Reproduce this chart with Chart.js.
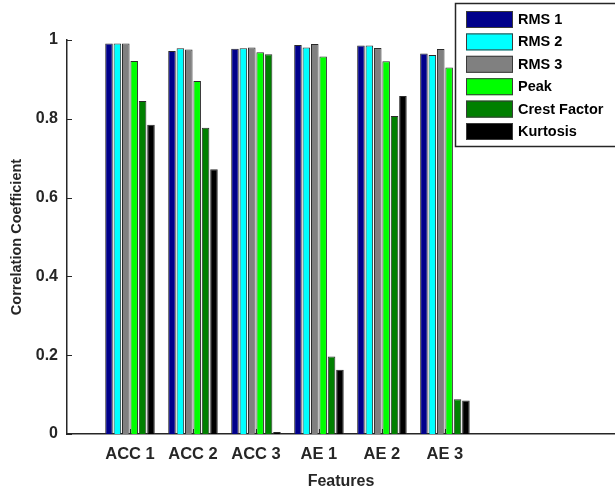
<!DOCTYPE html>
<html>
<head>
<meta charset="utf-8">
<script src="https://cdn.jsdelivr.net/npm/chart.js@4/dist/chart.umd.min.js"></script>
<style>
  html, body { margin: 0; padding: 0; background: #fff; overflow: hidden; }
  #wrap { width: 615px; height: 491px; position: relative; }
</style>
</head>
<body>
<div id="wrap"><canvas id="corrChart" width="615" height="491"></canvas></div>
<script>
const categories = ['ACC 1', 'ACC 2', 'ACC 3', 'AE 1', 'AE 2', 'AE 3'];
const seriesNames = ['RMS 1', 'RMS 2', 'RMS 3', 'Peak', 'Crest Factor', 'Kurtosis'];
const seriesColors = ['#00008b', '#00ffff', '#808080', '#00ff00', '#008000', '#000000'];

const rms1 = [0.991, 0.972, 0.978, 0.987, 0.986, 0.966];
const rms2 = [0.991, 0.979, 0.979, 0.981, 0.986, 0.962];
const rms3 = [0.991, 0.976, 0.981, 0.990, 0.980, 0.977];
const peak = [0.947, 0.896, 0.969, 0.958, 0.946, 0.930];
const crestFactor = [0.845, 0.777, 0.964, 0.197, 0.807, 0.088];
const kurtosis = [0.785, 0.672, 0.005, 0.163, 0.858, 0.085];

const seriesValues = [rms1, rms2, rms3, peak, crestFactor, kurtosis];
const yTicks = [0, 0.2, 0.4, 0.6, 0.8, 1];
const xMax = 8.7;

const textColor = '#262626';
const fontFamily = '"Liberation Sans", Arial, sans-serif';

const datasets = seriesNames.map((name, k) => ({
  label: name,
  data: seriesValues[k].map((v, i) => ({ x: i + 1, y: v })),
  backgroundColor: seriesColors[k],
  borderColor: '#2a2a2a',
  borderWidth: 1,
  categoryPercentage: 0.8,
  barPercentage: 0.9
}));

// inward tick marks, like the original figure
const innerTicks = {
  id: 'innerTicks',
  afterDraw(chart) {
    const { ctx, chartArea, scales } = chart;
    ctx.save();
    ctx.strokeStyle = textColor;
    ctx.lineWidth = 1;
    ctx.beginPath();
    yTicks.forEach(t => {
      const y = Math.round(scales.y.getPixelForValue(t)) + 0.5;
      ctx.moveTo(chartArea.left, y);
      ctx.lineTo(chartArea.left + 5, y);
    });
    categories.forEach((c, i) => {
      const x = Math.round(scales.x.getPixelForValue(i + 1)) + 0.5;
      ctx.moveTo(x, chartArea.bottom);
      ctx.lineTo(x, chartArea.bottom - 5);
    });
    ctx.stroke();
    ctx.restore();
  }
};

// legend box in the upper right corner, drawn over the bars
const boxLegend = {
  id: 'boxLegend',
  afterDraw(chart) {
    const ctx = chart.ctx;
    const left = 455, top = 3, width = 165, height = 143;
    const pitch = 22.4;
    ctx.save();
    ctx.fillStyle = '#fff';
    ctx.fillRect(left, top, width, height);
    ctx.strokeStyle = '#262626';
    ctx.lineWidth = 1.5;
    ctx.strokeRect(left + 0.5, top + 0.5, width, height);
    ctx.font = 'bold 14.5px ' + fontFamily;
    ctx.textBaseline = 'middle';
    chart.data.datasets.forEach((ds, k) => {
      const cy = 19 + k * pitch;
      ctx.fillStyle = ds.backgroundColor;
      ctx.fillRect(466, cy - 8, 47, 17);
      ctx.strokeStyle = '#3a3a3a';
      ctx.lineWidth = 1;
      ctx.strokeRect(466.5, cy - 7.5, 46, 16);
      ctx.fillStyle = '#000';
      ctx.fillText(ds.label, 518, cy + 1);
    });
    ctx.restore();
  }
};

new Chart(document.getElementById('corrChart'), {
  type: 'bar',
  data: { datasets },
  plugins: [innerTicks, boxLegend],
  options: {
    responsive: false,
    animation: false,
    layout: { padding: { left: 0, right: 0, top: 40, bottom: 0 } },
    plugins: {
      legend: { display: false },
      tooltip: { enabled: false }
    },
    scales: {
      x: {
        type: 'linear',
        min: 0,
        max: xMax,
        offset: false,
        afterFit: scale => { scale.height = 57; },
        afterBuildTicks: scale => {
          scale.ticks = categories.map((c, i) => ({ value: i + 1 }));
        },
        grid: { display: false, drawTicks: false },
        border: { color: textColor, width: 1.5 },
        ticks: {
          autoSkip: false,
          maxRotation: 0,
          padding: 11,
          color: textColor,
          font: { family: fontFamily, size: 16.5, weight: 'bold' },
          callback: v => categories[v - 1] || ''
        },
        title: {
          display: true,
          text: 'Features',
          color: textColor,
          padding: { top: 0, bottom: 0 },
          font: { family: fontFamily, size: 16, weight: 'bold' }
        }
      },
      y: {
        min: 0,
        max: 1,
        afterFit: scale => { scale.width = 67; },
        afterBuildTicks: scale => {
          scale.ticks = yTicks.map(v => ({ value: v }));
        },
        grid: { display: false, drawTicks: false },
        border: { color: textColor, width: 1.5 },
        ticks: {
          padding: 9,
          color: textColor,
          font: { family: fontFamily, size: 16, weight: 'bold' },
          callback: v => String(v)
        },
        title: {
          display: true,
          text: 'Correlation Coefficient',
          color: textColor,
          padding: { top: 8, bottom: 0 },
          font: { family: fontFamily, size: 14.5, weight: 'bold' }
        }
      }
    }
  }
});
</script>
</body>
</html>
